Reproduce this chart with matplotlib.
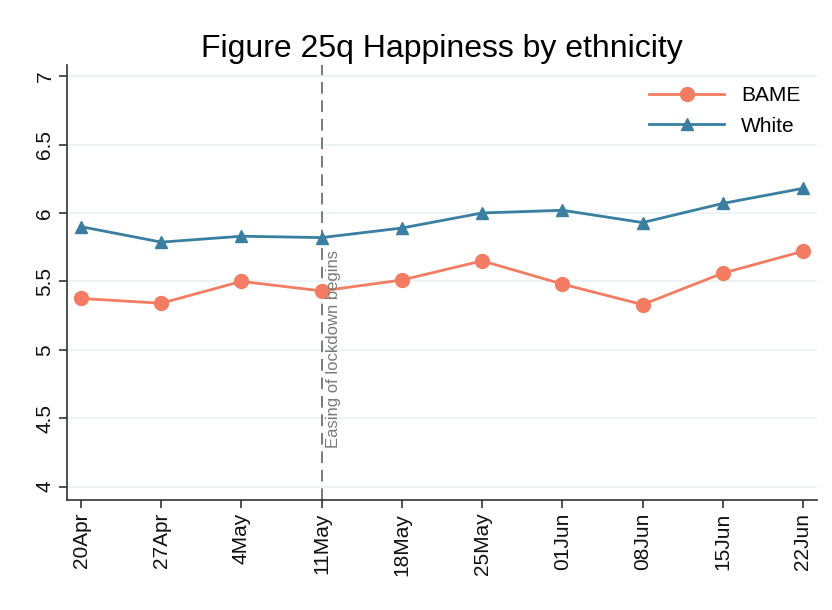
import matplotlib
matplotlib.use("Agg")
import matplotlib.pyplot as plt

weeks = ["20Apr", "27Apr", "4May", "11May", "18May", "25May", "01Jun", "08Jun", "15Jun", "22Jun"]
bame = [5.375, 5.34, 5.50, 5.43, 5.51, 5.65, 5.48, 5.33, 5.56, 5.72]
white = [5.90, 5.787, 5.83, 5.82, 5.89, 6.00, 6.02, 5.93, 6.07, 6.18]
yticks = [4, 4.5, 5, 5.5, 6, 6.5, 7]
ytick_labels = ["4", "4.5", "5", "5.5", "6", "6.5", "7"]
event_idx = 3
event_label = "Easing of lockdown begins"

plt.rcParams['font.family'] = ['Liberation Sans', 'DejaVu Sans']

fig = plt.figure(figsize=(8.32, 6.1), dpi=100)
ax = fig.add_axes([0.0805, 0.180, 0.9015, 0.713])

x = list(range(len(weeks)))
ax.plot(x, bame, color="#F47C62", lw=2, marker="o", ms=10, label="BAME", zorder=3)
ax.plot(x, white, color="#3A7EA1", lw=2, marker="^", ms=8, label="White", zorder=3)

ax.axvline(event_idx, color="#7a7a7a", lw=1.4, ls=(0, (6, 3.5)), zorder=2)
ax.text(event_idx + 0.05, 4.28, event_label, rotation=90, color="#7a7a7a",
        fontsize=12, ha="left", va="bottom")

ax.set_xlim(-0.175, 9.175)
ax.set_ylim(3.9, 7.08)
ax.set_yticks(yticks)
ax.set_yticklabels(ytick_labels, rotation=90, va="center", fontsize=15)
ax.set_xticks(x)
ax.set_xticklabels(weeks, rotation=90, fontsize=15)
ax.grid(axis="y", color="#EAF2F3", lw=1.2, zorder=0)
ax.set_axisbelow(True)
for s in ["top", "right"]:
    ax.spines[s].set_visible(False)
for s in ["left", "bottom"]:
    ax.spines[s].set_color("#333333")
    ax.spines[s].set_linewidth(1.2)
ax.tick_params(axis="both", length=6, width=1.2, color="#333333", labelcolor="#111111", pad=3)

ax.set_title("Figure 25q Happiness by ethnicity", fontsize=23, pad=6)
ax.legend(loc="upper right", frameon=False, fontsize=15, handlelength=3.6,
          borderaxespad=0.4, labelspacing=0.55, bbox_to_anchor=(1.0, 0.99))

fig.savefig("out.png", dpi=100, facecolor="white")
